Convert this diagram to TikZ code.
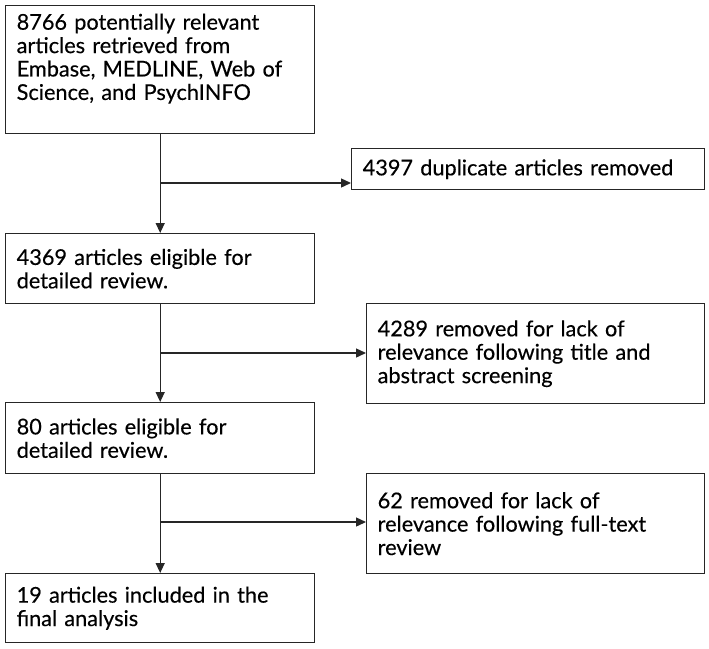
\documentclass[tikz,border=0pt]{standalone}
\usepackage{fontspec}
\setmainfont{Lato}[FakeBold=0.35]
\usetikzlibrary{arrows.meta,calc}
\begin{document}
\begin{tikzpicture}[x=1pt,y=-1pt,
  box/.style={draw=black!85, line width=1.4pt, anchor=north west, align=left,
    inner xsep=11pt, inner ysep=0pt, font=\fontsize{21.7pt}{23.4pt}\selectfont},
  arr/.style={draw=black!85, line width=1.4pt, -{Triangle[length=10pt,width=9pt]}}]
\useasboundingbox (0,0) rectangle (709,648);
\node[box, minimum width=309pt, minimum height=128pt, text width=287pt, text depth=96pt] (b1) at (5,5)
  {8766 potentially relevant\\articles retrieved from\\Embase, MEDLINE, Web of\\Science, and PsychINFO};
\node[box, minimum width=353pt, minimum height=41pt, text width=331pt] (bd) at (351,148)
  {4397 duplicate articles removed};
\node[box, minimum width=309pt, minimum height=70pt, text width=287pt] (b2) at (5,233)
  {4369 articles eligible for\\detailed review.};
\node[box, minimum width=338pt, minimum height=100pt, text width=316pt] (br) at (366,303)
  {4289 removed for lack of\\relevance following title and\\abstract screening};
\node[box, minimum width=309pt, minimum height=71pt, text width=287pt] (b3) at (5,402)
  {80 articles eligible for\\detailed review.};
\node[box, minimum width=338pt, minimum height=100pt, text width=316pt] (bf) at (366,473)
  {62 removed for lack of\\relevance following full-text\\review};
\node[box, minimum width=309pt, minimum height=69pt, text width=287pt] (b4) at (5,573)
  {19 articles included in the\\final analysis};
\coordinate (j1) at (b1.south |- 0,183);
\coordinate (j2) at (b2.south |- 0,353);
\coordinate (j3) at (b3.south |- 0,522);
\draw[arr] (b1.south) -- (b2.north);
\draw[arr] (b2.south) -- (b3.north);
\draw[arr] (b3.south) -- (b4.north);
\draw[arr] (j1) -- (j1 -| bd.west);
\draw[arr] (j2) -- (j2 -| br.west);
\draw[arr] (j3) -- (j3 -| bf.west);
\end{tikzpicture}
\end{document}
